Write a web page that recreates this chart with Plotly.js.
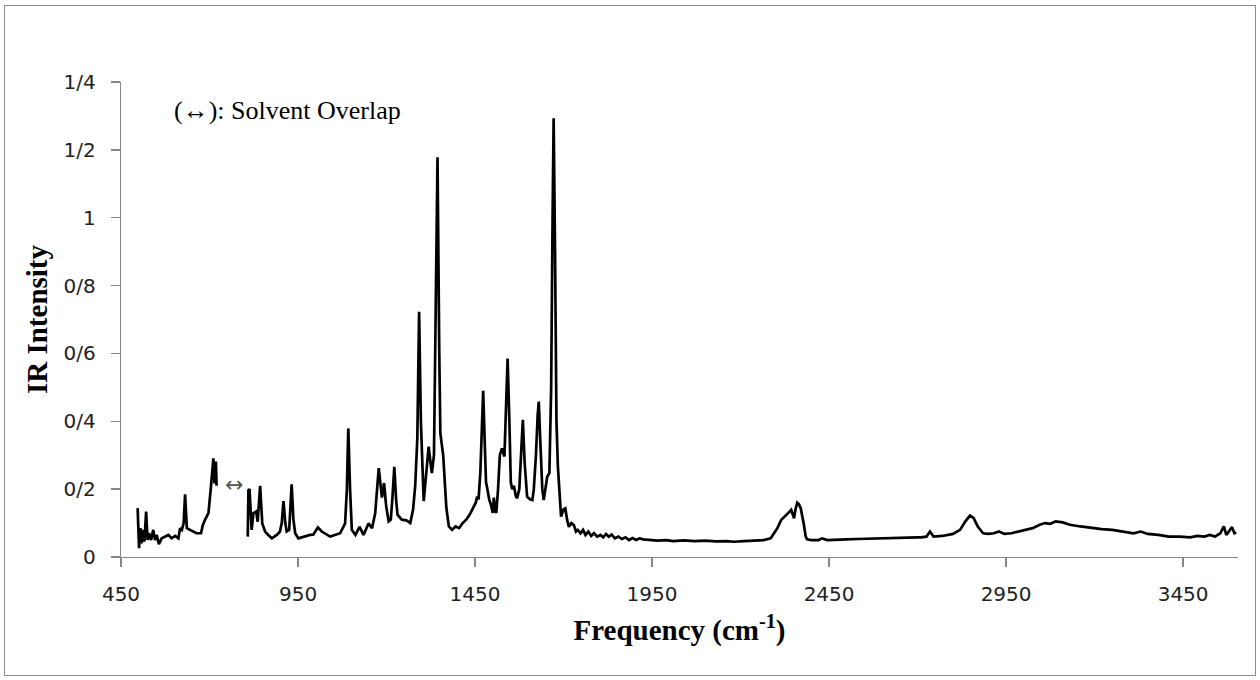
<!DOCTYPE html>
<html>
<head>
<meta charset="utf-8">
<script src="https://cdn.plot.ly/plotly-3.0.1.min.js"></script>
<style>
html,body{margin:0;padding:0;background:#fff;}
#frame{position:absolute;left:4px;top:5px;width:1250px;height:669px;border:1.5px solid #8c8c8c;}
#chart{position:absolute;left:0;top:0;width:1260px;height:680px;}
</style>
</head>
<body>
<div id="frame"></div>
<div id="chart"></div>
<script>
// Wavenumber (cm-1) and IR intensity
const freq = [497,501,505,508,513,516,521,525,529,535,541,546,551,557,565,574,584,593,603,612,617,622,627,631,636,645,654,663,676,681,687,697,704,708,711,714,718,720,null,
808,810,813,819,824,832,836,843,849,857,866,876,890,899,904,909,914,918,925,932,937,942,951,965,984,993,1006,1017,1041,1069,1083,1088,1092,1097,1102,1112,1124,1135,1149,1159,1168,1178,1183,1187,1193,1199,1206,1212,1217,1222,1227,1231,1243,1256,1267,1275,1281,1287,1292,1297,1305,1312,1319,1324,1328,1334,1338,1344,1349,1352,1360,1369,1376,1385,1395,1405,1415,1425,1435,1445,1452,1456,1460,1465,1469,1473,1477,1481,1484,1490,1496,1500,1503,1507,1510,1515,1520,1526,1533,1537,1542,1547,1551,1555,1560,1565,1569,1575,1580,1585,1590,1597,1605,1612,1616,1622,1627,1630,1634,1640,1644,1650,1654,1660,1665,1669,1672,1676,1680,1684,1690,1693,1700,1705,1710,1715,1722,1729,1735,1740,1748,1755,1762,1770,1778,1786,1795,1804,1812,1820,1828,1836,1845,1855,1865,1875,1885,1895,1905,1915,1925,1945,1965,1990,2010,2040,2070,2100,2130,2160,2181,2210,2240,2265,2285,2295,2304,2315,2327,2335,2343,2348,2351,2355,2360,2365,2370,2378,2384,2388,2400,2420,2430,2445,2470,2500,2530,2560,2586,2610,2640,2670,2700,2709,2725,2735,2745,2770,2800,2820,2835,2848,2858,2870,2885,2900,2915,2930,2945,2965,2985,3005,3025,3045,3060,3075,3090,3110,3130,3160,3190,3220,3250,3280,3310,3330,3350,3380,3410,3440,3470,3490,3510,3525,3540,3555,3565,3572,3580,3588,3595,3600];
const intensity = [0.144,0.026,0.085,0.04,0.08,0.045,0.134,0.05,0.07,0.05,0.08,0.05,0.065,0.038,0.055,0.06,0.065,0.055,0.062,0.055,0.085,0.08,0.1,0.185,0.085,0.08,0.075,0.07,0.07,0.094,0.109,0.129,0.207,0.266,0.291,0.217,0.281,0.21,null,
0.06,0.197,0.2,0.08,0.129,0.134,0.104,0.21,0.099,0.075,0.065,0.055,0.065,0.075,0.1,0.165,0.1,0.075,0.08,0.214,0.11,0.07,0.055,0.06,0.065,0.066,0.087,0.075,0.06,0.07,0.099,0.2,0.379,0.2,0.08,0.065,0.089,0.065,0.099,0.085,0.129,0.262,0.2,0.175,0.218,0.15,0.105,0.11,0.18,0.266,0.17,0.125,0.11,0.108,0.1,0.14,0.21,0.35,0.723,0.4,0.165,0.24,0.325,0.28,0.247,0.3,0.6,1.178,0.6,0.365,0.3,0.145,0.09,0.08,0.09,0.085,0.1,0.11,0.125,0.145,0.16,0.178,0.17,0.25,0.4,0.49,0.35,0.22,0.205,0.17,0.15,0.13,0.175,0.135,0.13,0.2,0.3,0.32,0.296,0.4,0.585,0.4,0.22,0.2,0.21,0.18,0.173,0.2,0.3,0.404,0.28,0.178,0.17,0.168,0.2,0.3,0.42,0.458,0.35,0.2,0.168,0.21,0.237,0.247,0.5,1.0,1.293,0.9,0.4,0.266,0.15,0.119,0.14,0.143,0.11,0.089,0.1,0.094,0.075,0.08,0.07,0.08,0.065,0.075,0.062,0.07,0.06,0.065,0.058,0.068,0.06,0.066,0.055,0.06,0.053,0.058,0.05,0.056,0.05,0.055,0.052,0.05,0.048,0.05,0.047,0.049,0.047,0.048,0.046,0.047,0.045,0.047,0.048,0.05,0.055,0.07,0.085,0.11,0.124,0.13,0.139,0.125,0.114,0.14,0.16,0.155,0.143,0.1,0.06,0.052,0.05,0.05,0.055,0.05,0.05,0.052,0.053,0.054,0.055,0.057,0.056,0.058,0.058,0.058,0.06,0.075,0.06,0.062,0.068,0.08,0.105,0.122,0.115,0.09,0.07,0.068,0.07,0.075,0.068,0.07,0.075,0.078,0.085,0.095,0.1,0.098,0.105,0.102,0.095,0.09,0.085,0.082,0.08,0.075,0.07,0.075,0.068,0.065,0.06,0.06,0.058,0.062,0.06,0.065,0.06,0.07,0.09,0.065,0.075,0.088,0.07,0.072];

const yTickVals = [0,0.2,0.4,0.6,0.8,1,1.2,1.4];
const yTickText = ["0","0/2","0/4","0/6","0/8","1","1/2","1/4"];
const xTickVals = [450,950,1450,1950,2450,2950,3450];
const xTickText = ["450","950","1450","1950","2450","2950","3450"];

const trace = {
  x: freq, y: intensity, type: 'scatter', mode: 'lines',
  connectgaps: false,
  line: {color: '#000000', width: 2.7},
  hoverinfo: 'skip'
};

const axisCommon = {
  showgrid: false, zeroline: false, showline: true,
  linecolor: '#878787', linewidth: 1.3,
  ticks: 'outside', ticklen: 9, tickcolor: '#878787', tickwidth: 1.3,
  tickfont: {family: 'DejaVu Sans', size: 20, color: '#222'}
};

const layout = {
  width: 1260, height: 680,
  paper_bgcolor: 'rgba(0,0,0,0)', plot_bgcolor: 'rgba(0,0,0,0)',
  margin: {l: 121, r: 22, t: 82, b: 123},
  showlegend: false,
  xaxis: Object.assign({}, axisCommon, {
    range: [450, 3605], tickmode: 'array', tickvals: xTickVals, ticktext: xTickText,
    ticklabelstandoff: 10,
    title: {text: '<b>Frequency (cm<sup>-1</sup>)</b>', font: {family: 'Liberation Serif', size: 29, color: '#000'}, standoff: 14}
  }),
  yaxis: Object.assign({}, axisCommon, {
    range: [0, 1.4], tickmode: 'array', tickvals: yTickVals, ticktext: yTickText,
    ticklabelstandoff: 11,
    title: {text: '<b>IR Intensity</b>', font: {family: 'Liberation Serif', size: 29, color: '#000'}, standoff: 7}
  }),
  annotations: [
    {x: 594, y: 1.317, xref: 'x', yref: 'y', text: '(↔): Solvent Overlap', showarrow: false,
     xanchor: 'left', yanchor: 'middle', font: {family: 'Liberation Serif', size: 26, color: '#000'}},
    {x: 768, y: 0.214, xref: 'x', yref: 'y', text: '↔', showarrow: false,
     xanchor: 'center', yanchor: 'middle', font: {family: 'DejaVu Sans', size: 22, color: '#555'}}
  ]
};

Plotly.newPlot('chart', [trace], layout, {staticPlot: true, displayModeBar: false});
</script>
</body>
</html>
